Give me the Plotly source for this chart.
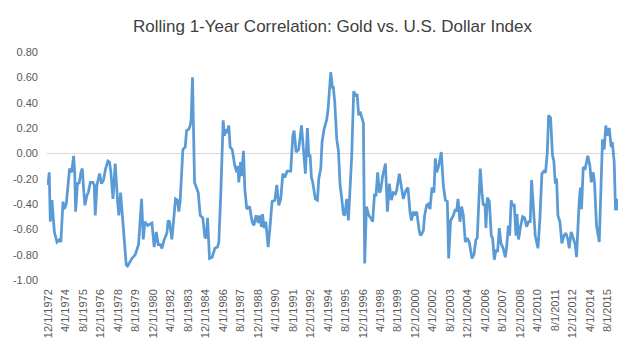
import plotly.graph_objects as go

# Decimal-year positions of the traced observations and the correlation values
years = [
    1972.90, 1972.95, 1973.00, 1973.08, 1973.21, 1973.39, 1973.59, 1973.79, 1973.89, 1974.05,
    1974.15, 1974.30, 1974.43, 1974.55, 1974.71, 1974.86, 1974.94, 1975.01, 1975.16, 1975.27,
    1975.42, 1975.52, 1975.62, 1975.72, 1975.88, 1975.98, 1976.13, 1976.33, 1976.43, 1976.51,
    1976.64, 1976.84, 1976.99, 1977.14, 1977.30, 1977.47, 1977.60, 1977.70, 1977.86, 1977.93,
    1978.03, 1978.21, 1978.31, 1978.44, 1978.52, 1978.59, 1978.87, 1978.97, 1979.30, 1979.56,
    1979.81, 1980.04, 1980.17, 1980.29, 1980.50, 1980.83, 1981.00, 1981.16, 1981.31, 1981.46,
    1981.59, 1981.77, 1981.97, 1982.07, 1982.17, 1982.35, 1982.48, 1982.63, 1982.78, 1982.88,
    1982.98, 1983.06, 1983.19, 1983.37,
    1983.47, 1983.64, 1983.75, 1983.82, 1983.92, 1984.08, 1984.23, 1984.36, 1984.51, 1984.71,
    1984.86, 1984.97, 1985.07, 1985.22, 1985.42, 1985.63, 1985.83, 1985.93, 1986.08, 1986.26,
    1986.36, 1986.46, 1986.54, 1986.69, 1986.79, 1986.95, 1987.15, 1987.30, 1987.38, 1987.45,
    1987.58, 1987.66, 1987.81, 1987.91, 1988.06, 1988.27, 1988.47, 1988.60, 1988.77, 1988.93,
    1989.03, 1989.18, 1989.26, 1989.38, 1989.51, 1989.69, 1989.84, 1989.99, 1990.20, 1990.35,
    1990.50, 1990.65, 1990.81, 1990.96, 1991.14, 1991.41, 1991.57, 1991.67, 1991.82, 1992.02,
    1992.23, 1992.38, 1992.53, 1992.68, 1992.79, 1992.89, 1992.99, 1993.09, 1993.29, 1993.45,
    1993.55, 1993.70, 1993.80, 1993.95, 1994.16, 1994.26, 1994.46,
    1994.59, 1994.66, 1994.77, 1994.92, 1995.05, 1995.17, 1995.27, 1995.43, 1995.53, 1995.68,
    1995.81, 1995.93, 1996.06, 1996.21, 1996.37, 1996.47, 1996.59, 1996.70, 1996.85, 1996.95,
    1997.05, 1997.18, 1997.36, 1997.51, 1997.66, 1997.79, 1997.91, 1998.04, 1998.17, 1998.27,
    1998.42, 1998.63, 1998.78, 1998.93, 1999.08, 1999.23, 1999.39, 1999.49, 1999.69, 1999.84,
    1999.99, 2000.20, 2000.35, 2000.50, 2000.61, 2000.76, 2000.86, 2001.01, 2001.22, 2001.32,
    2001.52, 2001.62, 2001.77, 2001.90, 2002.03, 2002.18, 2002.33, 2002.43, 2002.54, 2002.69,
    2002.89, 2003.04, 2003.20, 2003.35, 2003.45, 2003.60, 2003.81, 2003.96, 2004.06, 2004.16,
    2004.31, 2004.44, 2004.57, 2004.72, 2004.87, 2005.02, 2005.23,
    2005.38, 2005.53, 2005.63, 2005.74, 2005.86, 2005.99, 2006.09, 2006.22, 2006.29, 2006.40,
    2006.55, 2006.70, 2006.80, 2006.93, 2007.06, 2007.18, 2007.31, 2007.44, 2007.61, 2007.77,
    2007.87, 2008.00, 2008.10, 2008.22, 2008.33, 2008.45, 2008.58, 2008.66, 2008.78, 2008.93,
    2009.09, 2009.24, 2009.39, 2009.54, 2009.67, 2009.77, 2009.90, 2010.05, 2010.26, 2010.41,
    2010.56, 2010.71, 2010.84, 2010.97, 2011.07, 2011.22, 2011.37, 2011.47, 2011.58, 2011.68,
    2011.78, 2011.93, 2012.08, 2012.24, 2012.39, 2012.54, 2012.64, 2012.79, 2012.95, 2013.10,
    2013.20, 2013.30, 2013.40, 2013.50, 2013.58, 2013.71, 2013.86, 2014.06, 2014.22, 2014.32,
    2014.47, 2014.57, 2014.72, 2014.93, 2015.05, 2015.18, 2015.31, 2015.43, 2015.54, 2015.69,
    2015.84, 2015.92, 2015.99, 2016.07, 2016.17, 2016.25, 2016.32,
]

correlation = [
    -0.25, -0.15, -0.15, -0.54, -0.37, -0.62, -0.70, -0.68, -0.70, -0.38,
    -0.44, -0.40, -0.25, -0.12, -0.15, -0.02, -0.15, -0.46, -0.23, -0.24,
    -0.15, -0.12, -0.28, -0.41, -0.33, -0.31, -0.23, -0.23, -0.25, -0.49,
    -0.25, -0.16, -0.24, -0.21, -0.12, -0.06, -0.07, -0.15, -0.36, -0.25,
    -0.08, -0.38, -0.49, -0.31, -0.41, -0.49, -0.88, -0.89, -0.83, -0.80,
    -0.72, -0.36, -0.68, -0.54, -0.57, -0.55, -0.74, -0.62, -0.72, -0.72,
    -0.75, -0.68, -0.63, -0.53, -0.54, -0.68, -0.51, -0.36, -0.37, -0.46,
    -0.38, -0.18, 0.03, 0.05,
    0.18, 0.19, 0.22, 0.27, 0.60, -0.23, -0.27, -0.31, -0.49, -0.51,
    -0.66, -0.67, -0.51, -0.83, -0.82, -0.75, -0.74, -0.70, -0.31, 0.26,
    0.14, 0.19, 0.16, 0.22, 0.05, 0.03, -0.10, -0.15, -0.10, -0.23,
    -0.07, -0.18, 0.02, -0.28, -0.44, -0.42, -0.54, -0.57, -0.49, -0.55,
    -0.49, -0.58, -0.48, -0.59, -0.54, -0.74, -0.57, -0.38, -0.37, -0.25,
    -0.41, -0.36, -0.16, -0.19, -0.14, -0.14, 0.14, 0.18, 0.01, 0.03,
    0.22, 0.03, -0.16, 0.20, -0.02, -0.02, -0.19, -0.23, -0.36, -0.37,
    -0.20, -0.12, 0.09, 0.19, 0.27, 0.35, 0.64,
    0.52, 0.52, 0.40, 0.11, 0.02, -0.25, -0.33, -0.48, -0.49, -0.36,
    -0.53, -0.33, -0.02, 0.49, 0.45, 0.47, 0.30, 0.33, 0.26, 0.24,
    -0.87, -0.42, -0.49, -0.51, -0.54, -0.33, -0.33, -0.15, -0.31, -0.29,
    -0.18, -0.08, -0.46, -0.24, -0.37, -0.31, -0.32, -0.29, -0.16, -0.28,
    -0.36, -0.29, -0.27, -0.46, -0.53, -0.46, -0.49, -0.46, -0.62, -0.65,
    -0.61, -0.49, -0.41, -0.40, -0.44, -0.27, -0.31, -0.04, -0.15, -0.10,
    0.01, -0.25, -0.37, -0.38, -0.83, -0.53, -0.49, -0.44, -0.46, -0.36,
    -0.54, -0.42, -0.49, -0.70, -0.67, -0.70, -0.83,
    -0.80, -0.68, -0.67, -0.38, -0.12, -0.31, -0.41, -0.40, -0.59, -0.35,
    -0.38, -0.65, -0.67, -0.84, -0.76, -0.78, -0.59, -0.71, -0.75, -0.82,
    -0.74, -0.57, -0.65, -0.37, -0.42, -0.40, -0.65, -0.48, -0.68, -0.58,
    -0.50, -0.51, -0.58, -0.54, -0.54, -0.21, -0.38, -0.65, -0.75, -0.51,
    -0.16, -0.14, -0.15, 0.01, 0.30, 0.28, -0.02, -0.06, -0.24, -0.20,
    -0.49, -0.54, -0.71, -0.65, -0.63, -0.68, -0.75, -0.62, -0.67, -0.72,
    -0.82, -0.53, -0.38, -0.27, -0.44, -0.11, -0.12, -0.02, -0.10, -0.23,
    -0.15, -0.23, -0.57, -0.70, -0.28, 0.11, 0.03, 0.22, 0.14, 0.20,
    0.05, 0.09, 0.02, -0.07, -0.45, -0.36, -0.45,
]

x_tick_labels = [
    "12/1/1972", "4/1/1974", "8/1/1975", "12/1/1976", "4/1/1978", "8/1/1979",
    "12/1/1980", "4/1/1982", "8/1/1983", "12/1/1984", "4/1/1986", "8/1/1987",
    "12/1/1988", "4/1/1990", "8/1/1991", "12/1/1992", "4/1/1994", "8/1/1995",
    "12/1/1996", "4/1/1998", "8/1/1999", "12/1/2000", "4/1/2002", "8/1/2003",
    "12/1/2004", "4/1/2006", "8/1/2007", "12/1/2008", "4/1/2010", "8/1/2011",
    "12/1/2012", "4/1/2014", "8/1/2015",
]

y_tick_values = [-1.0, -0.8, -0.6, -0.4, -0.2, 0.0, 0.2, 0.4, 0.6, 0.8]


def label_to_year(lbl):
    m, d, y = lbl.split("/")
    return int(y) + (int(m) - 1) / 12.0


x_tick_vals = [label_to_year(s) for s in x_tick_labels]
y_tick_text = ["%.2f" % v for v in y_tick_values]

fig = go.Figure()
fig.add_trace(go.Scatter(
    x=years, y=correlation, mode="lines",
    line=dict(color="#5B9BD5", width=2.75),
    hoverinfo="skip",
))

fig.update_layout(
    width=633, height=350,
    margin=dict(l=47, r=15, t=52, b=68),
    paper_bgcolor="white", plot_bgcolor="white",
    showlegend=False,
    font=dict(family="Liberation Sans, Arial, sans-serif", color="#595959"),
    title=dict(
        text="Rolling 1-Year Correlation: Gold vs. U.S. Dollar Index",
        x=0.5, xanchor="center", xref="paper",
        y=1 - 26 / 350, yanchor="middle", yref="container",
        font=dict(size=17, color="#404040", family="Liberation Sans, Arial, sans-serif"),
    ),
    xaxis=dict(
        range=[1972.83, 2016.36],
        tickmode="array", tickvals=x_tick_vals, ticktext=x_tick_labels,
        tickangle=-90, tickfont=dict(size=11, color="#595959"),
        showgrid=False, zeroline=False, showline=False, ticks="",
        ticklabelstandoff=6,
    ),
    yaxis=dict(
        range=[-1.0, 0.8],
        tickmode="array", tickvals=y_tick_values, ticktext=y_tick_text,
        tickfont=dict(size=11, color="#595959"),
        showgrid=False, zeroline=True, zerolinecolor="#D9D9D9", zerolinewidth=1,
        showline=False, ticks="", ticklabelstandoff=8,
    ),
)

fig.write_html("out.html")
